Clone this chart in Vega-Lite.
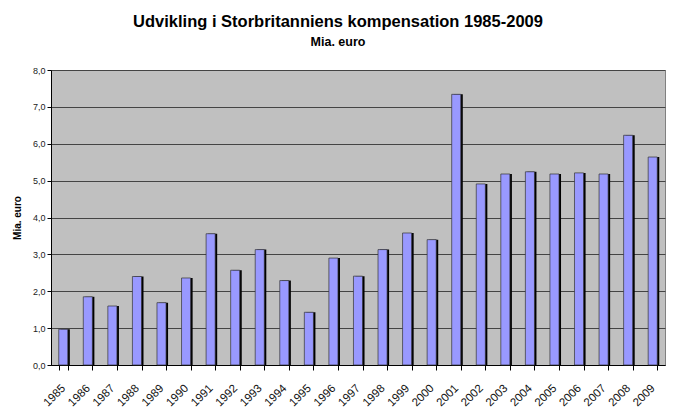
{
  "$schema": "https://vega.github.io/schema/vega-lite/v6.json",
  "width": 614,
  "height": 295,
  "autosize": {"type": "none"},
  "padding": {"left": 51, "top": 70, "right": 10, "bottom": 55},
  "background": "white",
  "title": {
    "text": "Udvikling i Storbritanniens kompensation 1985-2009",
    "subtitle": "Mia. euro",
    "anchor": "middle",
    "dx": -20,
    "offset": 18,
    "font": "Arial",
    "fontSize": 16.5,
    "fontWeight": "bold",
    "color": "black",
    "subtitleFont": "Arial",
    "subtitleFontSize": 12.5,
    "subtitleFontWeight": "bold",
    "subtitleColor": "black",
    "subtitlePadding": 5
  },
  "data": {
    "values": [
      {"year": "1985", "value": 0.97},
      {"year": "1986", "value": 1.85},
      {"year": "1987", "value": 1.6},
      {"year": "1988", "value": 2.4},
      {"year": "1989", "value": 1.69},
      {"year": "1990", "value": 2.36},
      {"year": "1991", "value": 3.56},
      {"year": "1992", "value": 2.57},
      {"year": "1993", "value": 3.13},
      {"year": "1994", "value": 2.29},
      {"year": "1995", "value": 1.43},
      {"year": "1996", "value": 2.9},
      {"year": "1997", "value": 2.41},
      {"year": "1998", "value": 3.13},
      {"year": "1999", "value": 3.58},
      {"year": "2000", "value": 3.4},
      {"year": "2001", "value": 7.34},
      {"year": "2002", "value": 4.91},
      {"year": "2003", "value": 5.18},
      {"year": "2004", "value": 5.24},
      {"year": "2005", "value": 5.18},
      {"year": "2006", "value": 5.21},
      {"year": "2007", "value": 5.18},
      {"year": "2008", "value": 6.23},
      {"year": "2009", "value": 5.64}
    ]
  },
  "encoding": {
    "x": {
      "field": "year",
      "type": "ordinal",
      "scale": {"paddingInner": 0.63, "paddingOuter": 0.315},
      "axis": {
        "title": null,
        "labelAngle": -45,
        "labelAlign": "right",
        "labelBaseline": "top",
        "labelFont": "Arial",
        "labelFontSize": 11.5,
        "labelColor": "#111",
        "labelPadding": 12,
        "labelOffset": -4,
        "tickBand": "extent",
        "tickColor": "black",
        "tickSize": 5,
        "domainColor": "black"
      }
    },
    "y": {
      "field": "value",
      "type": "quantitative",
      "scale": {"domain": [0, 8]},
      "axis": {
        "title": "Mia. euro",
        "titleFont": "Arial",
        "titleFontSize": 10,
        "titleFontWeight": "bold",
        "titleColor": "black",
        "titlePadding": 10,
        "values": [0, 1, 2, 3, 4, 5, 6, 7, 8],
        "labelExpr": "replace(format(datum.value, '.1f'), '.', ',')",
        "labelFont": "Arial",
        "labelFontSize": 9,
        "labelColor": "#222",
        "labelOverlap": false,
        "tickColor": "black",
        "tickSize": 4,
        "domainColor": "black",
        "gridColor": "#444",
        "gridWidth": 1
      }
    }
  },
  "layer": [
    {
      "mark": {"type": "bar", "color": "black", "xOffset": 2, "yOffset": 0}
    },
    {
      "mark": {"type": "bar", "color": "#9999FF", "stroke": "#333", "strokeWidth": 0.7}
    }
  ],
  "config": {
    "view": {"fill": "#C0C0C0", "stroke": "#808080"},
    "axis": {"labelOverlap": false}
  }
}
